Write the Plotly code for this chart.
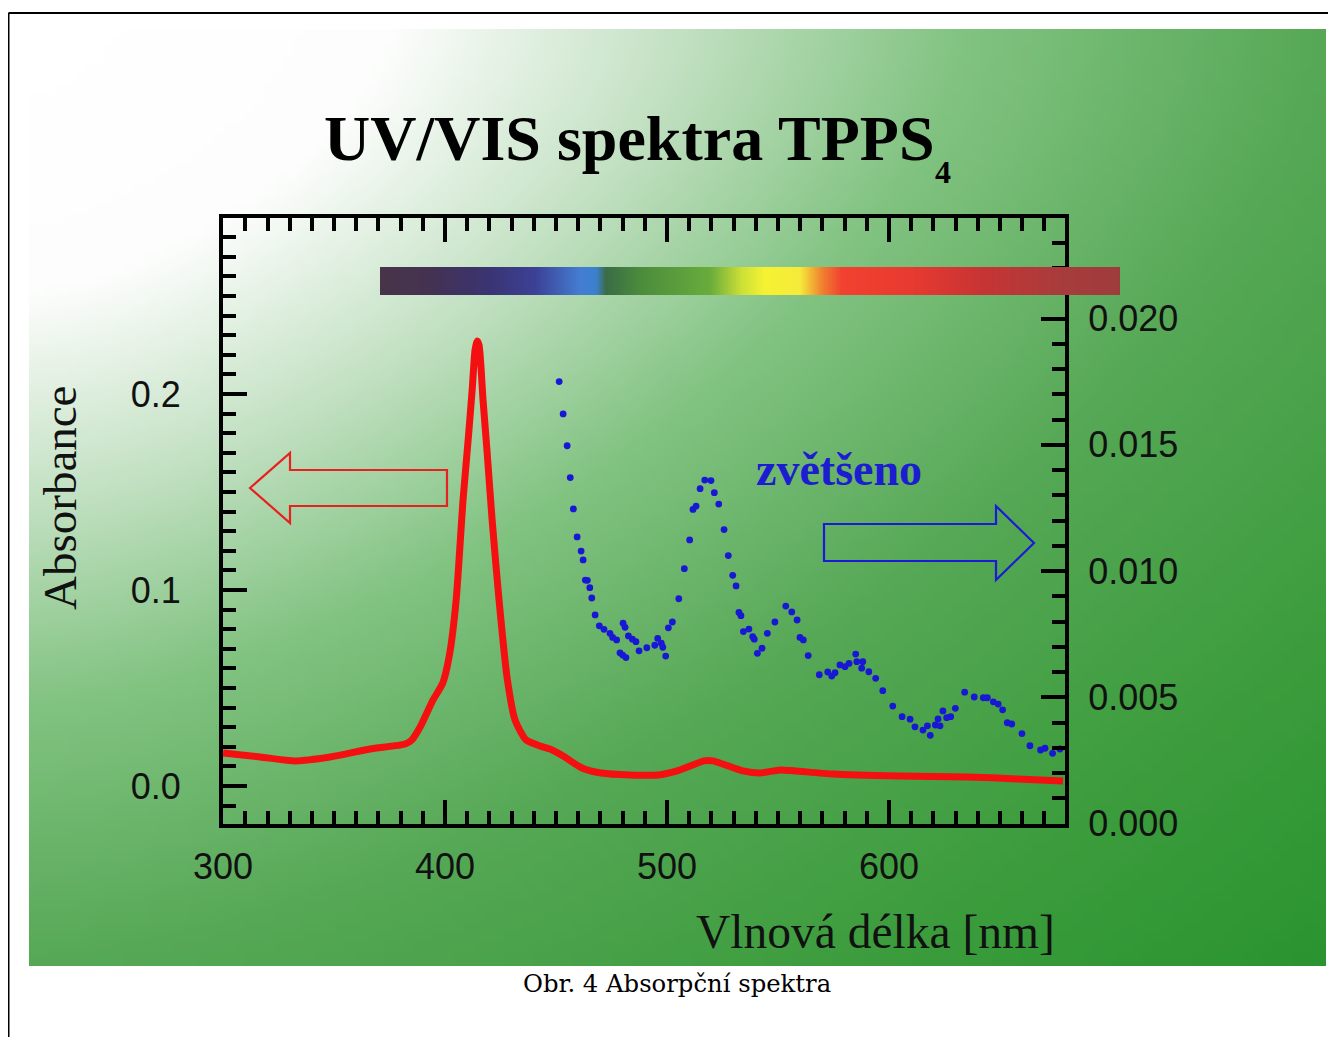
import base64, struct, zlib
import plotly.graph_objects as go

# reference picture size and the page offset of the plot div (body margin)
REF_W, REF_H = 1336, 1037
OFF = 8
W, H = REF_W - OFF, REF_H - OFF

# ---------------- data ----------------
red_nm = [300, 316.7, 332.4, 348.2, 366.2, 382.0, 385.0, 388.7, 394.6, 399.0, 402.0, 405.0,
          408.1, 410.4, 412.2, 413.5, 414.4, 415.3, 417.1, 418.9, 421.2, 424.3, 427.9, 431.5,
          436.5, 442.8, 448.2, 453.2, 461.7, 470.3, 483.3, 496.0, 504.5, 516.7, 520.7, 534.2,
          541.9, 550.9, 557.7, 574.8, 605.0, 635.1, 657.7, 678.4]
red_abs = [0.0168, 0.0148, 0.0128, 0.0148, 0.0189, 0.0214, 0.0235, 0.0300, 0.0439, 0.0526, 0.0670, 0.0950,
           0.1460, 0.1765, 0.2020, 0.2224, 0.2270, 0.2250, 0.1970, 0.1710, 0.1357, 0.0950, 0.0556, 0.0337,
           0.0235, 0.0204, 0.0184, 0.0153, 0.0092, 0.0066, 0.0056, 0.0056, 0.0077, 0.0128, 0.0128, 0.0077,
           0.0066, 0.0082, 0.0077, 0.0061, 0.0051, 0.0046, 0.0036, 0.0026]

blue_nm = [451.4, 453.2, 455.0, 456.4, 457.8, 459.5, 461.3, 462.2, 463.2, 464.1, 465.2, 466.1, 467.6,
           469.5, 471.6, 474.3, 475.5, 477.3, 478.8, 480.0, 481.5, 480.2, 481.1, 482.6, 484.4, 486.0,
           487.4, 490.9, 494.5, 495.8, 497.4, 498.1, 499.4, 500.6, 502.4, 505.3, 507.8, 510.2, 511.7,
           513.1, 514.9, 517.0, 519.8, 521.3, 523.3, 525.7, 527.6, 529.6, 531.1, 532.4, 533.3, 534.4,
           536.9, 538.6, 539.3, 540.7, 542.8, 545.2, 548.6, 553.5, 556.2, 558.6, 559.9, 561.4, 563.6,
           568.6, 572.4, 574.2, 575.7, 577.9, 580.2, 582.0, 585.0, 585.5, 588.2, 587.7, 590.9, 594.0,
           597.2, 601.7, 605.9, 609.5, 611.7, 615.3, 617.3, 618.6, 620.9, 623.0, 622.1, 624.3, 626.0,
           627.8, 629.9, 634.1, 638.4, 642.5, 644.3, 647.0, 649.2, 651.2, 653.3, 655.3, 659.9, 663.5,
           668.3, 670.3, 673.7, 677.0, 680.5]
# magnified spectrum, in milli-absorbance units
blue_mabs = [17.50, 16.22, 14.96, 13.70, 12.46, 11.35, 10.79, 10.44, 9.64, 9.63, 9.34, 8.93, 8.26,
             7.83, 7.69, 7.53, 7.37, 7.27, 6.76, 6.67, 6.57, 7.93, 7.77, 7.43, 7.30, 7.20,
             6.84, 6.96, 7.06, 7.33, 7.14, 6.98, 6.63, 7.75, 7.98, 8.90, 10.09, 11.23, 12.44,
             12.57, 13.26, 13.60, 13.58, 13.10, 12.65, 11.64, 10.61, 9.83, 9.41, 8.36, 8.23, 7.60,
             7.70, 7.40, 7.30, 6.74, 6.94, 7.53, 7.98, 8.61, 8.38, 8.06, 7.37, 7.27, 6.65,
             5.89, 6.00, 5.84, 5.97, 6.28, 6.21, 6.34, 6.71, 6.41, 6.41, 6.15, 6.01, 5.75,
             5.26, 4.65, 4.23, 4.13, 3.83, 3.70, 3.87, 3.49, 3.90, 3.87, 4.14, 4.46, 4.19,
             4.23, 4.56, 5.20, 5.01, 4.98, 4.98, 4.82, 4.73, 4.50, 3.99, 3.94, 3.56, 3.08,
             2.91, 2.98, 2.78, 2.95, 2.54]
blue_abs = [v / 1000.0 for v in blue_mabs]

x_ticks = [300, 400, 500, 600]

# ---------------- helpers ----------------
def px(x):
    return (x - OFF) / W

def py(y):
    return 1 - (y - OFF) / H

def lerp_stops(stops, t):
    if t <= stops[0][0]:
        return stops[0][1]
    for (t0, c0), (t1, c1) in zip(stops, stops[1:]):
        if t <= t1:
            f = (t - t0) / (t1 - t0)
            return tuple(int(round(a + (b - a) * f)) for a, b in zip(c0, c1))
    return stops[-1][1]

def png_uri(rows, w, h):
    raw = b"".join(b"\x00" + bytes(r) for r in rows)
    def chunk(t, d):
        return struct.pack(">I", len(d)) + t + d + struct.pack(">I", zlib.crc32(t + d) & 0xffffffff)
    png = (b"\x89PNG\r\n\x1a\n" + chunk(b"IHDR", struct.pack(">IIBBBBB", w, h, 8, 2, 0, 0, 0))
           + chunk(b"IDAT", zlib.compress(raw, 9)) + chunk(b"IEND", b""))
    return "data:image/png;base64," + base64.b64encode(png).decode()

# background gradient (white top-left -> green bottom-right)
bg_stops = [(0.0, (255, 255, 255)), (0.28, (252, 253, 252)), (0.5, (195, 225, 195)),
            (0.72, (130, 195, 130)), (1.0, (86, 168, 86)), (1.3, (62, 157, 62)), (1.59, (42, 148, 48))]
bw, bh = 130, 94
bg_rows = []
for j in range(bh):
    row = []
    for i in range(bw):
        u = i / (bw - 1)
        v = j / (bh - 1)
        d = (u ** 1.5 + v ** 1.5) ** (1 / 1.5)
        row.extend(lerp_stops(bg_stops, d))
    bg_rows.append(row)
bg_uri = png_uri(bg_rows, bw, bh)

# spectrum colour bar
sp_stops = [(0, (72, 52, 72)), (50, (68, 50, 82)), (110, (58, 52, 115)), (155, (60, 65, 150)),
            (200, (68, 125, 210)), (216, (60, 128, 205)), (226, (58, 108, 70)), (260, (75, 140, 60)),
            (330, (105, 172, 60)), (362, (205, 225, 55)), (385, (245, 242, 50)), (420, (245, 235, 58)),
            (442, (240, 130, 48)), (462, (242, 65, 48)), (530, (232, 58, 48)), (600, (200, 52, 52)),
            (680, (168, 60, 60)), (740, (158, 60, 60))]
sw, sh = 741, 4
sp_row = []
for i in range(sw):
    sp_row.extend(lerp_stops(sp_stops, i))
sp_uri = png_uri([sp_row] * sh, sw, sh)

# ---------------- figure ----------------
fig = go.Figure()
fig.add_trace(go.Scatter(x=red_nm, y=red_abs, mode="lines",
                         line=dict(color="#f41010", width=7, shape="spline", smoothing=0.6),
                         cliponaxis=False, hoverinfo="skip", showlegend=False))
fig.add_trace(go.Scatter(x=blue_nm, y=blue_abs, mode="markers", yaxis="y2",
                         marker=dict(color="#1818d4", size=6.8), cliponaxis=False,
                         hoverinfo="skip", showlegend=False))

tickfont = dict(family="Liberation Sans, Arial, sans-serif", size=36, color="#111111")
serif = "Liberation Serif, Times New Roman, serif"

fig.update_layout(
    width=W, height=H, margin=dict(l=0, r=0, t=0, b=0, pad=0, autoexpand=False),
    paper_bgcolor="white", plot_bgcolor="rgba(0,0,0,0)",
    showlegend=False, hovermode=False,
    xaxis=dict(domain=[px(223), px(1065)], range=[299.95, 679.3],
               showline=True, linecolor="black", linewidth=4, mirror="ticks",
               ticks="inside", ticklen=24, tickwidth=4, tickcolor="black",
               tickmode="array", tickvals=x_ticks,
               minor=dict(dtick=10, tick0=300, ticks="inside", ticklen=13, tickwidth=3.5, tickcolor="black"),
               showgrid=False, zeroline=False, tickfont=tickfont, ticklabelstandoff=8,
               automargin=False),
    yaxis=dict(domain=[py(824), py(218)], range=[-0.0194, 0.2898],
               showline=True, linecolor="black", linewidth=4,
               ticks="inside", ticklen=24, tickwidth=4, tickcolor="black",
               dtick=0.1, tick0=0, tickformat=".1f",
               minor=dict(dtick=0.01, tick0=0, ticks="inside", ticklen=13, tickwidth=3.5, tickcolor="black"),
               showgrid=False, zeroline=False, tickfont=tickfont, ticklabelstandoff=31,
               automargin=False),
    yaxis2=dict(overlaying="y", side="right", anchor="x", range=[-0.00002, 0.02398],
                showline=True, linecolor="black", linewidth=4,
                ticks="inside", ticklen=24, tickwidth=4, tickcolor="black",
                dtick=0.005, tick0=0, tickformat=".3f",
                minor=dict(dtick=0.001, tick0=0, ticks="inside", ticklen=13, tickwidth=3.5, tickcolor="black"),
                showgrid=False, zeroline=False, tickfont=tickfont, ticklabelstandoff=12,
                automargin=False),
    images=[
        dict(source=bg_uri, xref="paper", yref="paper", x=px(29), y=py(29),
             sizex=px(1326) - px(29), sizey=py(29) - py(966), sizing="stretch",
             xanchor="left", yanchor="top", layer="below"),
        dict(source=sp_uri, xref="paper", yref="paper", x=px(380), y=py(267),
             sizex=px(1120) - px(380), sizey=py(267) - py(295), sizing="stretch",
             xanchor="left", yanchor="top", layer="above"),
    ],
)

# arrows
red_arrow = [(250, 488), (290, 453), (290, 470), (447, 470), (447, 506), (290, 506), (290, 523)]
blue_arrow = [(1034, 543), (996, 506), (996, 524), (824, 524), (824, 561), (996, 561), (996, 580)]

def path(pts):
    return "M " + " L ".join(f"{px(x):.5f},{py(y):.5f}" for x, y in pts) + " Z"

fig.add_shape(type="path", xref="paper", yref="paper", path=path(red_arrow),
              line=dict(color="#e82020", width=2.2), fillcolor="rgba(0,0,0,0)")
fig.add_shape(type="path", xref="paper", yref="paper", path=path(blue_arrow),
              line=dict(color="#1a1ad8", width=2.2), fillcolor="rgba(0,0,0,0)")

# page border
fig.add_shape(type="line", xref="paper", yref="paper", x0=px(8.5), x1=px(8.5), y0=py(13), y1=0,
              line=dict(color="black", width=2))
fig.add_shape(type="line", xref="paper", yref="paper", x0=px(8.5), x1=1, y0=py(13), y1=py(13),
              line=dict(color="black", width=2))

# texts
fig.add_annotation(text="UV/VIS spektra TPPS", xref="paper", yref="paper",
                   x=px(322), y=py(138), xanchor="left", yanchor="middle", showarrow=False,
                   font=dict(family=serif, size=64, color="black", weight="bold"))
fig.add_annotation(text="4", xref="paper", yref="paper",
                   x=px(943), y=py(172), xanchor="center", yanchor="middle", showarrow=False,
                   font=dict(family=serif, size=32, color="black", weight="bold"))
fig.add_annotation(text="zvětšeno", xref="paper", yref="paper",
                   x=px(839), y=py(469), xanchor="center", yanchor="middle", showarrow=False,
                   font=dict(family=serif, size=46, color="#1c1cd0", weight="bold"))
fig.add_annotation(text="Absorbance", xref="paper", yref="paper", textangle=-90,
                   x=px(60), y=py(498), xanchor="center", yanchor="middle", showarrow=False,
                   font=dict(family=serif, size=47, color="#111111"))
fig.add_annotation(text="Vlnová délka [nm]", xref="paper", yref="paper",
                   x=px(1057), y=py(932), xanchor="right", yanchor="middle", showarrow=False,
                   font=dict(family=serif, size=47.5, color="#111111"))
fig.add_annotation(text="Obr. 4 Absorpční spektra", xref="paper", yref="paper",
                   x=px(677), y=py(983), xanchor="center", yanchor="middle", showarrow=False,
                   font=dict(family="DejaVu Serif, serif", size=24.3, color="black"))

fig.write_html("out.html")
